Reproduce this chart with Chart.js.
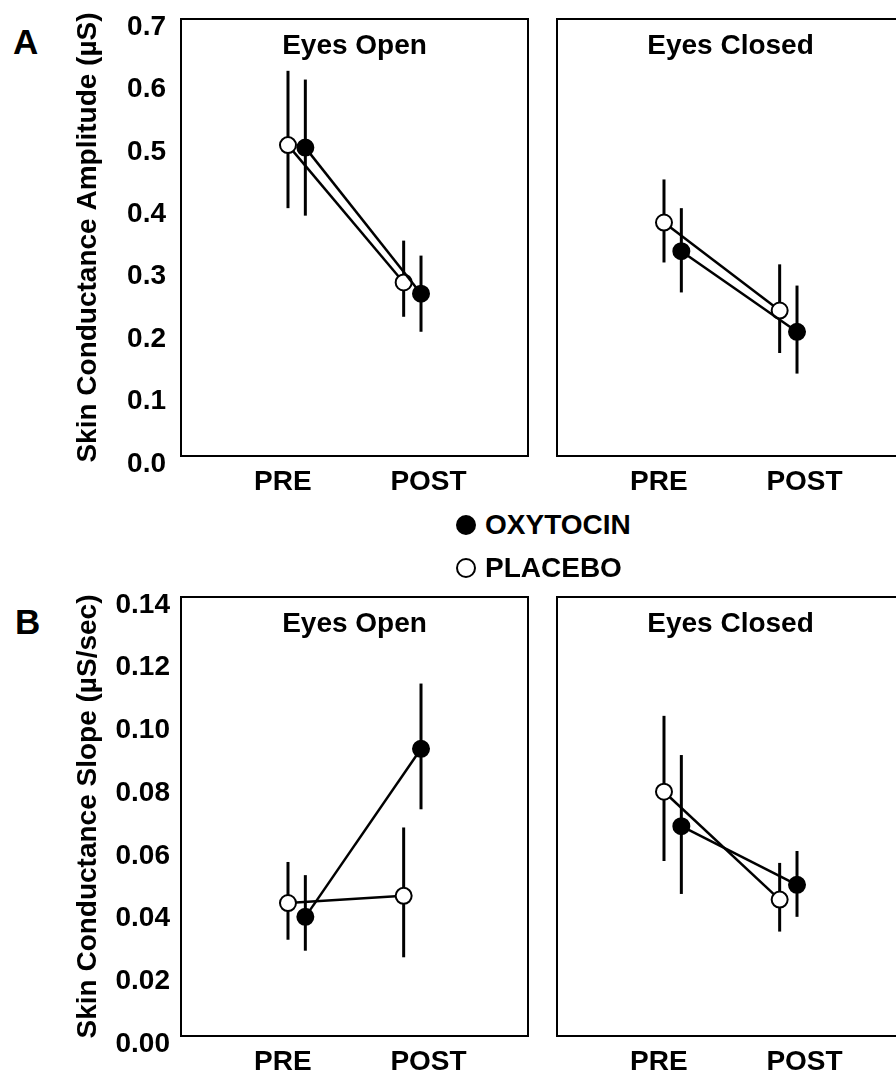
<!DOCTYPE html>
<html>
<head>
<meta charset="utf-8">
<script src="https://cdn.jsdelivr.net/npm/chart.js@4.4.1/dist/chart.umd.min.js"></script>
<style>
  html, body { margin: 0; padding: 0; background: #fff; }
  body { position: relative; width: 896px; height: 1074px; overflow: hidden; }
  canvas { position: absolute; }
  .panel-letter { position: absolute; font: bold 35px "Liberation Sans", Arial, sans-serif; line-height: 40px; color: #000; }
  .legend-row { position: absolute; left: 456px; height: 34px; display: flex; align-items: center;
    font: bold 28px "Liberation Sans", Arial, sans-serif; line-height: 34px; color: #000; z-index: 2; }
  .dot { width: 20px; height: 20px; border-radius: 50%; box-sizing: border-box; border: 2px solid #000; margin-right: 9px; }
</style>
</head>
<body>
<div class="panel-letter" style="left:13px; top:22px">A</div>
<div class="panel-letter" style="left:15px; top:602px">B</div>
<div id="legend"></div>

<canvas id="ampOpen" width="540" height="500" style="left:0; top:0"></canvas>
<canvas id="ampClosed" width="400" height="500" style="left:545px; top:0"></canvas>
<canvas id="slopeOpen" width="540" height="502" style="left:0; top:578px"></canvas>
<canvas id="slopeClosed" width="400" height="502" style="left:545px; top:578px"></canvas>

<script>
// categories
const conditions = ['PRE', 'POST'];
const conditionX = [1, 2];
const xTickPos = [0.88, 2.14];
const groups = ['OXYTOCIN', 'PLACEBO'];

// tick values
const ampTicks = [0, 0.1, 0.2, 0.3, 0.4, 0.5, 0.6, 0.7];
const slopeTicks = [0, 0.02, 0.04, 0.06, 0.08, 0.10, 0.12, 0.14];

// A - amplitude, eyes open
const ampOpenOxy = [0.494, 0.260];
const ampOpenOxyLow = [0.385, 0.199];
const ampOpenOxyHigh = [0.603, 0.321];
const ampOpenPlc = [0.498, 0.278];
const ampOpenPlcLow = [0.397, 0.223];
const ampOpenPlcHigh = [0.617, 0.345];

// A - amplitude, eyes closed
const ampClosedOxy = [0.328, 0.199];
const ampClosedOxyLow = [0.262, 0.132];
const ampClosedOxyHigh = [0.397, 0.273];
const ampClosedPlc = [0.374, 0.233];
const ampClosedPlcLow = [0.310, 0.165];
const ampClosedPlcHigh = [0.443, 0.307];

// B - slope, eyes open
const slopeOpenOxy = [0.0380, 0.0916];
const slopeOpenOxyLow = [0.0272, 0.0723];
const slopeOpenOxyHigh = [0.0513, 0.1124];
const slopeOpenPlc = [0.0424, 0.0447];
const slopeOpenPlcLow = [0.0307, 0.0251];
const slopeOpenPlcHigh = [0.0555, 0.0665];

// B - slope, eyes closed
const slopeClosedOxy = [0.0669, 0.0482];
const slopeClosedOxyLow = [0.0453, 0.0380];
const slopeClosedOxyHigh = [0.0896, 0.0590];
const slopeClosedPlc = [0.0779, 0.0435];
const slopeClosedPlcLow = [0.0558, 0.0333];
const slopeClosedPlcHigh = [0.1021, 0.0552];

const FONT = '"Liberation Sans", Arial, sans-serif';
Chart.defaults.font.family = FONT;
Chart.defaults.font.weight = 'bold';
Chart.defaults.color = '#000';

const OXY_SHIFT = 0.075;
const PLC_SHIFT = -0.075;

// box around the plot area plus the panel heading inside it
const framePlugin = {
  id: 'frame',
  afterDraw(chart, args, opts) {
    const { ctx, chartArea: a } = chart;
    ctx.save();
    ctx.strokeStyle = '#000';
    ctx.lineWidth = 2;
    ctx.strokeRect(a.left, a.top, a.right - a.left, a.bottom - a.top);
    ctx.fillStyle = '#000';
    ctx.font = 'bold 28px ' + FONT;
    ctx.textAlign = 'center';
    ctx.textBaseline = 'middle';
    ctx.fillText(opts.text, (a.left + a.right) / 2, a.top + 27);
    ctx.restore();
  },
};

function errorBars(low, high, shift) {
  return low.map((lo, i) => ({
    data: [
      { x: conditionX[i] + shift, y: lo },
      { x: conditionX[i] + shift, y: high[i] },
    ],
    borderColor: '#000',
    borderWidth: 3,
    pointRadius: 0,
    order: 3,
  }));
}

function series(label, mean, shift, fill, order) {
  return {
    label: label,
    data: mean.map((m, i) => ({ x: conditionX[i] + shift, y: m })),
    borderColor: '#000',
    borderWidth: 2.5,
    pointRadius: 8,
    pointBorderWidth: 2,
    pointBackgroundColor: fill,
    pointBorderColor: '#000',
    order: order,
  };
}

function makePanel(id, title, oxy, oxyLo, oxyHi, plc, plcLo, plcHi, axis) {
  const datasets = [
    series(groups[0], oxy, OXY_SHIFT, '#000', 0),
    series(groups[1], plc, PLC_SHIFT, '#fff', 1),
    ...errorBars(oxyLo, oxyHi, OXY_SHIFT),
    ...errorBars(plcLo, plcHi, PLC_SHIFT),
  ];

  const isLeft = !!axis.title;

  return new Chart(document.getElementById(id), {
    type: 'line',
    data: { datasets },
    plugins: [framePlugin],
    options: {
      responsive: false,
      animation: false,
      layout: {
        padding: isLeft
          ? { top: 19, right: 12, left: 0, bottom: 0 }
          : { top: 19, right: 41, left: 12, bottom: 0 },
      },
      scales: {
        x: {
          type: 'linear',
          min: 0,
          max: 3,
          grid: { display: false, drawTicks: false },
          border: { display: false },
          afterBuildTicks: (scale) => {
            scale.ticks = xTickPos.map((v) => ({ value: v }));
          },
          afterFit: (scale) => {
            scale.height = 44;
            scale.paddingLeft = 0;
            scale.paddingRight = 0;
          },
          ticks: {
            autoSkip: false,
            maxRotation: 0,
            padding: 9,
            font: { size: 28, weight: 'bold' },
            callback: (value, index) => conditions[index],
          },
        },
        y: {
          display: isLeft,
          min: axis.ticks[0],
          max: axis.ticks[axis.ticks.length - 1],
          grid: { display: false, drawTicks: false },
          border: { display: false },
          afterBuildTicks: (scale) => {
            scale.ticks = axis.ticks.map((v) => ({ value: v }));
          },
          afterFit: (scale) => {
            scale.width = isLeft ? 181 : 0;
            scale.paddingTop = 0;
            scale.paddingBottom = 0;
          },
          title: {
            display: isLeft,
            text: axis.title || '',
            font: { size: 28, weight: 'bold' },
            padding: { top: 71, bottom: 0 },
          },
          ticks: {
            autoSkip: false,
            padding: axis.pad || 0,
            labelOffset: 8,
            font: { size: 28, weight: 'bold' },
            callback: (value) => value.toFixed(axis.decimals),
          },
        },
      },
      plugins: {
        legend: { display: false },
        tooltip: { enabled: false },
        frame: { text: title },
      },
    },
  });
}

const ampAxis = { ticks: ampTicks, decimals: 1, pad: 15, title: 'Skin Conductance Amplitude (\u00b5S)' };
const slopeAxis = { ticks: slopeTicks, decimals: 2, pad: 11, title: 'Skin Conductance Slope (\u00b5S/sec)' };
const ampAxisRight = { ticks: ampTicks, decimals: 1 };
const slopeAxisRight = { ticks: slopeTicks, decimals: 2 };

makePanel('ampOpen', 'Eyes Open', ampOpenOxy, ampOpenOxyLow, ampOpenOxyHigh,
  ampOpenPlc, ampOpenPlcLow, ampOpenPlcHigh, ampAxis);
makePanel('ampClosed', 'Eyes Closed', ampClosedOxy, ampClosedOxyLow, ampClosedOxyHigh,
  ampClosedPlc, ampClosedPlcLow, ampClosedPlcHigh, ampAxisRight);
makePanel('slopeOpen', 'Eyes Open', slopeOpenOxy, slopeOpenOxyLow, slopeOpenOxyHigh,
  slopeOpenPlc, slopeOpenPlcLow, slopeOpenPlcHigh, slopeAxis);
makePanel('slopeClosed', 'Eyes Closed', slopeClosedOxy, slopeClosedOxyLow, slopeClosedOxyHigh,
  slopeClosedPlc, slopeClosedPlcLow, slopeClosedPlcHigh, slopeAxisRight);

// shared legend between the two rows
const legendFills = ['#000', '#fff'];
const legendTops = [508, 551];
const legend = document.getElementById('legend');
groups.forEach((name, i) => {
  const row = document.createElement('div');
  row.className = 'legend-row';
  row.style.top = legendTops[i] + 'px';
  const dot = document.createElement('span');
  dot.className = 'dot';
  dot.style.background = legendFills[i];
  row.appendChild(dot);
  row.appendChild(document.createTextNode(name));
  legend.appendChild(row);
});
</script>
</body>
</html>
